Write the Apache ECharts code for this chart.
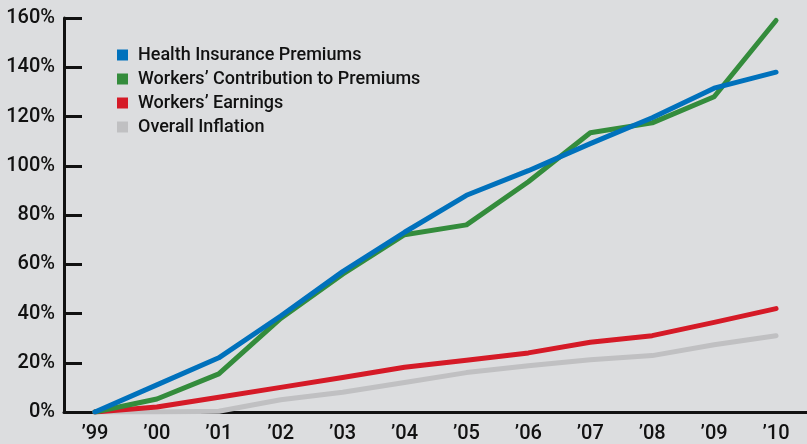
<!DOCTYPE html>
<html>
<head>
<meta charset="utf-8">
<script src="https://cdn.jsdelivr.net/npm/echarts@6/dist/echarts.min.js"></script>
<style>
html,body{margin:0;padding:0;background:#dcdddf;}
#c{width:807px;height:444px;}
</style>
</head>
<body>
<div id="c"></div>
<script>
const years = ["’99","’00","’01","’02","’03","’04","’05","’06","’07","’08","’09","’10"];
const yTicks = [0,20,40,60,80,100,120,140,160];
const healthPremiums = [0,11,22,39,57,73,88,98,109,119.5,131.5,138];
const workersContribution = [0,5.3,15.5,38,56,72,76,93.5,113.4,117.4,128,159];
const workersEarnings = [0,2,6,10,14,18.2,21,24,28.3,31,36.4,42];
const overallInflation = [0,0,0.3,5,8,12,16,18.8,21.2,22.9,27.3,31];

const names = ["Health Insurance Premiums","Workers’ Contribution to Premiums","Workers’ Earnings","Overall Inflation"];
const colors = ["#0071bc","#348c3c","#d51a27","#c0c0c2"];
const values = [healthPremiums, workersContribution, workersEarnings, overallInflation];

const font = "Roboto,'Liberation Sans',Arial,sans-serif";
const chart = echarts.init(document.getElementById('c'));
chart.setOption({
  backgroundColor:'#dcdddf',
  animation:false,
  textStyle:{fontFamily:font},
  legend:{
    orient:'vertical', left:117, top:45, padding:0,
    itemWidth:11, itemHeight:11, itemGap:4,
    icon:'rect',
    data:names,
    textStyle:{fontSize:18, fontWeight:500, color:'#111', fontFamily:font, lineHeight:20, padding:[0,0,0,5]}
  },
  grid:{left:64, right:0, top:18, bottom:31},
  xAxis:{
    type:'category', data:years, boundaryGap:true,
    axisLine:{lineStyle:{color:'#111', width:3}},
    axisTick:{inside:true, length:9, lineStyle:{color:'#111', width:3}, interval:0},
    axisLabel:{fontSize:20, fontWeight:500, color:'#111', margin:12, fontFamily:font, interval:0}
  },
  yAxis:{
    type:'value', min:yTicks[0], max:yTicks[yTicks.length-1], interval:20,
    axisLine:{show:true, lineStyle:{color:'#111', width:3}},
    axisTick:{show:true, inside:true, length:18, lineStyle:{color:'#111', width:3}},
    splitLine:{show:false},
    axisLabel:{fontSize:20, fontWeight:500, color:'#111', margin:9, fontFamily:font, formatter:'{value}%'}
  },
  series: names.map((n,i)=>({
    name:n, type:'line', data:values[i], showSymbol:false, symbol:'none',
    z: 10-i,
    itemStyle:{color:colors[i]},
    lineStyle:{color:colors[i], width:5, cap:'round', join:'round'}
  }))
});
</script>
</body>
</html>
